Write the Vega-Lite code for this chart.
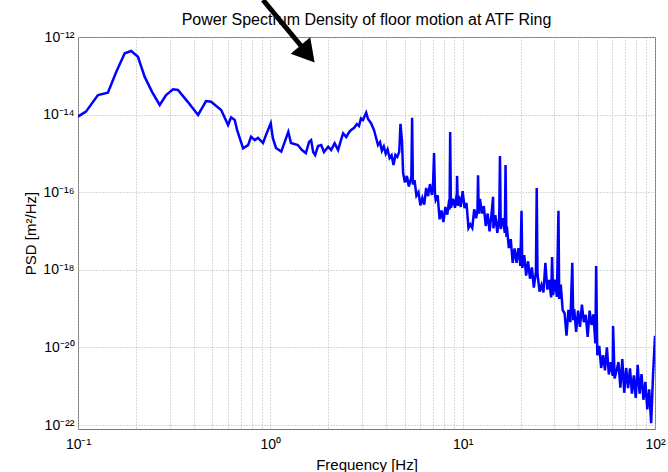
{
  "$schema": "https://vega.github.io/schema/vega-lite/v6.json",
  "autosize": "none",
  "padding": {"left": 78, "top": 37, "right": 13, "bottom": 43},
  "width": 577,
  "height": 392,
  "background": "white",
  "title": {
    "text": "Power Spectrum Density of floor motion at ATF Ring",
    "font": "Liberation Sans",
    "fontSize": 16,
    "fontWeight": "normal",
    "color": "#000000",
    "anchor": "middle",
    "frame": "group",
    "offset": -31
  },
  "config": {
    "view": {"stroke": "#777777", "strokeWidth": 1},
    "axis": {
      "labelFont": "Liberation Sans",
      "titleFont": "Liberation Sans",
      "labelColor": "#000000",
      "titleColor": "#000000",
      "titleFontWeight": "normal",
      "domain": false,
      "ticks": false,
      "grid": true,
      "gridColor": "#b0b0b0",
      "gridDash": [1, 2],
      "gridWidth": 1,
      "labelOverlap": false,
      "labelBound": false,
      "labelFlush": false
    }
  },
  "datasets": {
    "psd": [
      {"f": 0.1, "psd": 8.9e-15},
      {"f": 0.11, "psd": 1.19e-14},
      {"f": 0.127, "psd": 3.2e-14},
      {"f": 0.143, "psd": 3.66e-14},
      {"f": 0.158, "psd": 1.25e-13},
      {"f": 0.175, "psd": 3.8e-13},
      {"f": 0.189, "psd": 4.36e-13},
      {"f": 0.205, "psd": 3.1e-13},
      {"f": 0.222, "psd": 9.5e-14},
      {"f": 0.243, "psd": 3.8e-14},
      {"f": 0.266, "psd": 1.77e-14},
      {"f": 0.287, "psd": 3.2e-14},
      {"f": 0.312, "psd": 4.5e-14},
      {"f": 0.331, "psd": 4.3e-14},
      {"f": 0.373, "psd": 2.1e-14},
      {"f": 0.421, "psd": 9.8e-15},
      {"f": 0.463, "psd": 2.24e-14},
      {"f": 0.492, "psd": 2.15e-14},
      {"f": 0.555, "psd": 1.32e-14},
      {"f": 0.603, "psd": 5.4e-15},
      {"f": 0.625, "psd": 8.5e-15},
      {"f": 0.653, "psd": 7.3e-15},
      {"f": 0.672, "psd": 4.0e-15},
      {"f": 0.722, "psd": 1.35e-15},
      {"f": 0.766, "psd": 1.64e-15},
      {"f": 0.794, "psd": 2.7e-15},
      {"f": 0.83, "psd": 2.2e-15},
      {"f": 0.863, "psd": 2.5e-15},
      {"f": 0.916, "psd": 1.85e-15},
      {"f": 0.95, "psd": 3.0e-15},
      {"f": 1.005, "psd": 6.0e-15},
      {"f": 1.03, "psd": 2.5e-15},
      {"f": 1.07, "psd": 1.38e-15},
      {"f": 1.14, "psd": 1.11e-15},
      {"f": 1.24, "psd": 3.6e-15},
      {"f": 1.28, "psd": 1.85e-15},
      {"f": 1.39, "psd": 1.64e-15},
      {"f": 1.46, "psd": 1.22e-15},
      {"f": 1.53, "psd": 1.02e-15},
      {"f": 1.59, "psd": 1.97e-15},
      {"f": 1.63, "psd": 2.2e-15},
      {"f": 1.67, "psd": 1.09e-15},
      {"f": 1.71, "psd": 9.1e-16},
      {"f": 1.77, "psd": 1.55e-15},
      {"f": 1.84, "psd": 1.64e-15},
      {"f": 1.9, "psd": 1.09e-15},
      {"f": 2.0, "psd": 1.49e-15},
      {"f": 2.07, "psd": 1.22e-15},
      {"f": 2.16, "psd": 1.82e-15},
      {"f": 2.25, "psd": 1.22e-15},
      {"f": 2.33, "psd": 2.2e-15},
      {"f": 2.39, "psd": 3.3e-15},
      {"f": 2.48, "psd": 2.65e-15},
      {"f": 2.57, "psd": 3.56e-15},
      {"f": 2.63, "psd": 4.0e-15},
      {"f": 2.72, "psd": 4.5e-15},
      {"f": 2.82, "psd": 5.7e-15},
      {"f": 2.89, "psd": 5.1e-15},
      {"f": 2.96, "psd": 8.0e-15},
      {"f": 3.03, "psd": 7.3e-15},
      {"f": 3.15, "psd": 1.12e-14},
      {"f": 3.22, "psd": 7.7e-15},
      {"f": 3.34, "psd": 6.0e-15},
      {"f": 3.46, "psd": 4.0e-15},
      {"f": 3.63, "psd": 1.64e-15},
      {"f": 3.72, "psd": 1.95e-15},
      {"f": 3.8, "psd": 1.17e-15},
      {"f": 3.89, "psd": 1.51e-15},
      {"f": 3.98, "psd": 9.77e-16},
      {"f": 4.07, "psd": 1.26e-15},
      {"f": 4.17, "psd": 7.59e-16},
      {"f": 4.27, "psd": 8.91e-16},
      {"f": 4.37, "psd": 5.01e-16},
      {"f": 4.47, "psd": 9.12e-16},
      {"f": 4.57, "psd": 8.13e-16},
      {"f": 4.68, "psd": 1.1e-15},
      {"f": 4.75, "psd": 5.75e-15},
      {"f": 4.84, "psd": 2.0e-15},
      {"f": 4.9, "psd": 3.16e-16},
      {"f": 5.01, "psd": 1.78e-16},
      {"f": 5.13, "psd": 2.63e-16},
      {"f": 5.25, "psd": 1.41e-16},
      {"f": 5.41, "psd": 2.45e-16},
      {"f": 5.46, "psd": 8.32e-15},
      {"f": 5.51, "psd": 1.58e-16},
      {"f": 5.62, "psd": 2.04e-16},
      {"f": 5.75, "psd": 8.13e-17},
      {"f": 5.89, "psd": 1.0e-16},
      {"f": 6.03, "psd": 4.57e-17},
      {"f": 6.17, "psd": 7.08e-17},
      {"f": 6.31, "psd": 4.79e-17},
      {"f": 6.46, "psd": 1.29e-16},
      {"f": 6.61, "psd": 7.94e-17},
      {"f": 6.76, "psd": 1.62e-16},
      {"f": 6.92, "psd": 8.51e-17},
      {"f": 7.01, "psd": 1.41e-16},
      {"f": 7.1, "psd": 1.02e-15},
      {"f": 7.18, "psd": 8.91e-17},
      {"f": 7.24, "psd": 6.31e-17},
      {"f": 7.41, "psd": 8.32e-17},
      {"f": 7.59, "psd": 2.0e-17},
      {"f": 7.76, "psd": 3.39e-17},
      {"f": 7.94, "psd": 1.7e-17},
      {"f": 8.13, "psd": 4.17e-17},
      {"f": 8.32, "psd": 2.63e-17},
      {"f": 8.51, "psd": 6.31e-17},
      {"f": 8.55, "psd": 3.55e-17},
      {"f": 8.61, "psd": 3.55e-15},
      {"f": 8.69, "psd": 3.98e-17},
      {"f": 8.91, "psd": 6.76e-17},
      {"f": 9.12, "psd": 3.98e-17},
      {"f": 9.33, "psd": 9.55e-17},
      {"f": 9.35, "psd": 2.63e-16},
      {"f": 9.44, "psd": 4.47e-17},
      {"f": 9.55, "psd": 7.94e-17},
      {"f": 9.77, "psd": 4.17e-17},
      {"f": 10.0, "psd": 1.07e-16},
      {"f": 10.23, "psd": 3.89e-17},
      {"f": 10.47, "psd": 5.25e-17},
      {"f": 10.72, "psd": 1.2e-17},
      {"f": 10.96, "psd": 1.48e-17},
      {"f": 11.22, "psd": 1.2e-17},
      {"f": 11.48, "psd": 3.63e-17},
      {"f": 11.75, "psd": 2.14e-17},
      {"f": 11.94, "psd": 3.55e-17},
      {"f": 12.02, "psd": 2.75e-16},
      {"f": 12.13, "psd": 2.82e-17},
      {"f": 12.3, "psd": 6.76e-17},
      {"f": 12.59, "psd": 2.82e-17},
      {"f": 12.88, "psd": 4.37e-17},
      {"f": 13.18, "psd": 1.35e-17},
      {"f": 13.49, "psd": 2.82e-17},
      {"f": 13.8, "psd": 9.77e-18},
      {"f": 14.13, "psd": 2.82e-17},
      {"f": 14.39, "psd": 7.59e-17},
      {"f": 14.45, "psd": 1.17e-17},
      {"f": 14.79, "psd": 2.57e-17},
      {"f": 15.14, "psd": 8.91e-18},
      {"f": 15.49, "psd": 2.19e-17},
      {"f": 15.63, "psd": 8.51e-16},
      {"f": 15.78, "psd": 1.12e-17},
      {"f": 16.22, "psd": 2.14e-17},
      {"f": 16.56, "psd": 8.91e-18},
      {"f": 16.71, "psd": 5.01e-16},
      {"f": 16.87, "psd": 7.08e-18},
      {"f": 16.98, "psd": 1.29e-17},
      {"f": 17.38, "psd": 3.63e-18},
      {"f": 17.78, "psd": 6.17e-18},
      {"f": 18.2, "psd": 1.51e-18},
      {"f": 18.62, "psd": 3.55e-18},
      {"f": 19.05, "psd": 1.51e-18},
      {"f": 19.5, "psd": 3.63e-18},
      {"f": 19.95, "psd": 1.26e-18},
      {"f": 20.23, "psd": 3.31e-17},
      {"f": 20.42, "psd": 1.12e-18},
      {"f": 20.89, "psd": 2.4e-18},
      {"f": 21.38, "psd": 7.08e-19},
      {"f": 21.88, "psd": 1.66e-18},
      {"f": 22.39, "psd": 5.89e-19},
      {"f": 22.91, "psd": 1.15e-18},
      {"f": 23.44, "psd": 3.47e-19},
      {"f": 24.04, "psd": 8.91e-19},
      {"f": 24.27, "psd": 1.29e-16},
      {"f": 24.49, "psd": 7.94e-19},
      {"f": 25.12, "psd": 2.75e-19},
      {"f": 25.7, "psd": 4.07e-19},
      {"f": 26.3, "psd": 2.63e-19},
      {"f": 26.92, "psd": 1.51e-18},
      {"f": 27.54, "psd": 3.09e-19},
      {"f": 28.18, "psd": 5.5e-19},
      {"f": 28.84, "psd": 1.95e-19},
      {"f": 29.17, "psd": 2.14e-18},
      {"f": 29.51, "psd": 2.24e-19},
      {"f": 30.2, "psd": 5.62e-19},
      {"f": 30.9, "psd": 2.0e-19},
      {"f": 31.48, "psd": 3.31e-17},
      {"f": 31.77, "psd": 1.78e-19},
      {"f": 32.36, "psd": 4.17e-19},
      {"f": 33.11, "psd": 9.12e-20},
      {"f": 33.88, "psd": 7.59e-20},
      {"f": 34.67, "psd": 2.0e-20},
      {"f": 35.48, "psd": 9.33e-20},
      {"f": 36.31, "psd": 4.47e-20},
      {"f": 37.15, "psd": 1.51e-18},
      {"f": 37.58, "psd": 5.01e-20},
      {"f": 38.02, "psd": 9.77e-20},
      {"f": 38.9, "psd": 2.51e-20},
      {"f": 39.81, "psd": 8.91e-20},
      {"f": 40.74, "psd": 3.39e-20},
      {"f": 41.69, "psd": 1.26e-19},
      {"f": 42.66, "psd": 4.47e-20},
      {"f": 43.65, "psd": 6.92e-20},
      {"f": 44.67, "psd": 1.86e-20},
      {"f": 45.71, "psd": 8.91e-20},
      {"f": 46.77, "psd": 3.8e-20},
      {"f": 47.86, "psd": 7.08e-20},
      {"f": 48.98, "psd": 1.26e-20},
      {"f": 49.43, "psd": 1.26e-18},
      {"f": 50.12, "psd": 6.31e-21},
      {"f": 51.29, "psd": 1.1e-20},
      {"f": 52.48, "psd": 2.95e-21},
      {"f": 53.7, "psd": 6.31e-21},
      {"f": 54.95, "psd": 2.57e-21},
      {"f": 56.23, "psd": 1.0e-20},
      {"f": 57.54, "psd": 2.0e-21},
      {"f": 58.88, "psd": 4.17e-21},
      {"f": 60.26, "psd": 1.86e-21},
      {"f": 60.53, "psd": 3.55e-20},
      {"f": 61.66, "psd": 1.58e-21},
      {"f": 63.1, "psd": 2.51e-21},
      {"f": 64.57, "psd": 4.17e-21},
      {"f": 66.07, "psd": 9.12e-22},
      {"f": 67.61, "psd": 5.01e-21},
      {"f": 69.18, "psd": 6.76e-22},
      {"f": 70.79, "psd": 2.95e-21},
      {"f": 72.44, "psd": 8.91e-22},
      {"f": 74.13, "psd": 2.88e-21},
      {"f": 75.86, "psd": 6.46e-22},
      {"f": 77.62, "psd": 1.91e-21},
      {"f": 79.43, "psd": 5.01e-22},
      {"f": 81.28, "psd": 3.55e-21},
      {"f": 83.18, "psd": 6.46e-22},
      {"f": 85.11, "psd": 2.04e-21},
      {"f": 87.1, "psd": 4.47e-22},
      {"f": 89.13, "psd": 1.29e-21},
      {"f": 91.2, "psd": 2.51e-22},
      {"f": 93.33, "psd": 8.32e-22},
      {"f": 95.5, "psd": 1.12e-22},
      {"f": 97.72, "psd": 2.0e-21},
      {"f": 100.0, "psd": 2.0e-20}
    ],
    "arrow": [
      {"f": 0.916, "psd": 9.0e-12, "f2": 1.462, "psd2": 5.52e-13}
    ],
    "head": [
      {"f": 1.561, "psd": 3.65e-13}
    ]
  },
  "layer": [
    {
      "data": {"name": "psd"},
      "mark": {"type": "line", "color": "#0000ff", "strokeWidth": 2.5, "clip": true},
      "encoding": {
        "x": {
          "field": "f",
          "type": "quantitative",
          "scale": {"type": "log", "domain": [0.1, 100], "nice": false},
          "axis": {
            "title": "Frequency [Hz]",
            "titleFontSize": 15,
            "titlePadding": 6,
            "labelFontSize": 14,
            "labelPadding": 8,
            "values": [0.1, 0.2, 0.3, 0.4, 0.5, 0.6, 0.7, 0.8, 0.9, 1, 2, 3, 4, 5, 6, 7, 8, 9, 10, 20, 30, 40, 50, 60, 70, 80, 90, 100],
            "labelExpr": "datum.value == 0.1 ? '10⁻¹' : datum.value == 1 ? '10⁰' : datum.value == 10 ? '10¹' : datum.value == 100 ? '10²' : ''"
          }
        },
        "y": {
          "field": "psd",
          "type": "quantitative",
          "scale": {"type": "log", "domain": [7.89e-23, 1e-12], "nice": false},
          "axis": {
            "title": "PSD [m²/Hz]",
            "titleFontSize": 15,
            "titlePadding": 4,
            "labelFontSize": 14,
            "labelPadding": 4,
            "values": [1e-22, 1e-20, 1e-18, 1e-16, 1e-14, 1e-12],
            "labelExpr": "datum.value < 1e-21 ? '10⁻²²' : datum.value < 1e-19 ? '10⁻²⁰' : datum.value < 1e-17 ? '10⁻¹⁸' : datum.value < 1e-15 ? '10⁻¹⁶' : datum.value < 1e-13 ? '10⁻¹⁴' : '10⁻¹²'"
          }
        }
      }
    },
    {
      "data": {"name": "arrow"},
      "mark": {"type": "rule", "color": "#000000", "strokeWidth": 5, "clip": false},
      "encoding": {
        "x": {"field": "f", "type": "quantitative"},
        "y": {"field": "psd", "type": "quantitative"},
        "x2": {"field": "f2"},
        "y2": {"field": "psd2"}
      }
    },
    {
      "data": {"name": "head"},
      "mark": {"type": "point", "shape": "triangle-up", "filled": true, "color": "#000000", "opacity": 1, "size": 650, "angle": 140, "clip": false},
      "encoding": {
        "x": {"field": "f", "type": "quantitative"},
        "y": {"field": "psd", "type": "quantitative"}
      }
    }
  ]
}
